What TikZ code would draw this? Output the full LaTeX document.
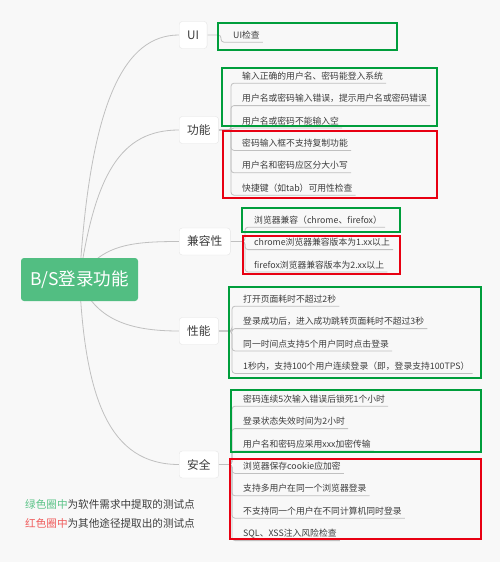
\documentclass[tikz,border=0pt]{standalone}
\usepackage{fontspec}
\setmainfont{Noto Sans CJK SC}
\usepackage{tikz}
\usetikzlibrary{positioning}

\definecolor{rootgreen}{RGB}{82,190,130}
\definecolor{boxgreen}{RGB}{0,158,60}
\definecolor{boxred}{RGB}{232,0,18}
\definecolor{linegray}{RGB}{192,192,192}
\definecolor{bggray}{RGB}{248,248,248}
\definecolor{txt}{RGB}{60,60,60}
\definecolor{keygreen}{RGB}{90,195,135}
\definecolor{keyred}{RGB}{240,90,90}

\pgfdeclarelayer{bg}
\pgfsetlayers{bg,main}

\tikzset{
  root/.style={fill=rootgreen, text=white, rounded corners=3pt, minimum width=117pt, minimum height=43pt, font=\fontsize{17.5}{20}\selectfont},
  topic/.style={anchor=west, fill=white, draw=gray!20, rounded corners=3pt, minimum height=27pt, inner xsep=8pt, text=txt, font=\fontsize{11.7}{14}\selectfont},
  leaf/.style={anchor=west, inner sep=0pt, minimum height=14pt, text=txt, font=\fontsize{8.8}{10}\selectfont},
  conn/.style={draw=linegray, line width=0.8pt},
  tie/.style={draw=linegray, line width=0.8pt, rounded corners=3pt},
  gbox/.style={draw=boxgreen, line width=1.6pt},
  rbox/.style={draw=boxred, line width=1.6pt},
  key/.style={anchor=west, inner sep=0pt, text=txt, font=\fontsize{10.6}{12}\selectfont}
}

\begin{document}
\begin{tikzpicture}[x=1pt, y=-1pt, node distance=8pt]
\useasboundingbox (0,0) rectangle (500,562);
\node[root] (bs) at (79.5,279.5) {B/S登录功能};
\node[topic] (ui) at (179,35) {UI};
\node[topic] (gn) at (179,130) {功能};
\node[topic] (jr) at (179,241.5) {兼容性};
\node[topic] (xn) at (179,331) {性能};
\node[topic] (aq) at (179,464.5) {安全};

% UI
\node[leaf] (u1) at (233,35) {UI检查};
% 功能
\node[leaf] (g1) at (242,76) {输入正确的用户名、密码能登入系统};
\node[leaf] (g2) [below=of g1.south west, anchor=north west] {用户名或密码输入错误，提示用户名或密码错误};
\node[leaf] (g3) [below=of g2.south west, anchor=north west] {用户名或密码不能输入空};
\node[leaf] (g4) [below=of g3.south west, anchor=north west] {密码输入框不支持复制功能};
\node[leaf] (g5) [below=of g4.south west, anchor=north west] {用户名和密码应区分大小写};
\node[leaf] (g6) [below=of g5.south west, anchor=north west] {快捷键（如tab）可用性检查};
% 兼容性
\node[leaf] (j1) at (254,220) {浏览器兼容（chrome、firefox）};
\node[leaf] (j2) [below=of j1.south west, anchor=north west] {chrome浏览器兼容版本为1.xx以上};
\node[leaf] (j3) [below=of j2.south west, anchor=north west] {firefox浏览器兼容版本为2.xx以上};
% 性能
\node[leaf] (x1) at (243,299) {打开页面耗时不超过2秒};
\node[leaf] (x2) [below=of x1.south west, anchor=north west] {登录成功后，进入成功跳转页面耗时不超过3秒};
\node[leaf] (x3) [below=of x2.south west, anchor=north west] {同一时间点支持5个用户同时点击登录};
\node[leaf] (x4) [below=of x3.south west, anchor=north west] {1秒内，支持100个用户连续登录（即，登录支持100TPS）};
% 安全
\node[leaf] (a1) at (243,399) {密码连续5次输入错误后锁死1个小时};
\node[leaf] (a2) [below=of a1.south west, anchor=north west] {登录状态失效时间为2小时};
\node[leaf] (a3) [below=of a2.south west, anchor=north west] {用户名和密码应采用xxx加密传输};
\node[leaf] (a4) [below=of a3.south west, anchor=north west] {浏览器保存cookie应加密};
\node[leaf] (a5) [below=of a4.south west, anchor=north west] {支持多用户在同一个浏览器登录};
\node[leaf] (a6) [below=of a5.south west, anchor=north west] {不支持同一个用户在不同计算机同时登录};
\node[leaf] (a7) [below=of a6.south west, anchor=north west] {SQL、XSS注入风险检查};

% legend
\node[key] (k1) at (25,504) {\textcolor{keygreen}{绿色圈中}为软件需求中提取的测试点};
\node[key] (k2) at (25,523) {\textcolor{keyred}{红色圈中}为其他途径提取出的测试点};

\begin{pgfonlayer}{bg}
\fill[bggray] (0,0) rectangle (500,562);
\draw[conn] (bs.center) .. controls (90,100) and (125,35) .. (ui.west);
\draw[conn] (bs.center) .. controls (95,175) and (120,130) .. (gn.west);
\draw[conn] (bs.center) .. controls (100,245) and (130,241.5) .. (jr.west);
\draw[conn] (bs.center) .. controls (95,320) and (130,331) .. (xn.west);
\draw[conn] (bs.center) .. controls (85,400) and (110,464.5) .. (aq.west);
\draw[tie] (ui.east) -| ([xshift=-12pt]u1.south west) -- ([xshift=3pt]u1.south east);
\foreach \n in {g1,g2,g3,g4,g5,g6}
  \draw[tie] (gn.east) -| ([xshift=-11pt]\n.south west) -- ([xshift=3pt]\n.south east);
\foreach \n in {j1,j2,j3}
  \draw[tie] (jr.east) -| ([xshift=-9pt]\n.south west) -- ([xshift=3pt]\n.south east);
\foreach \n in {x1,x2,x3,x4}
  \draw[tie] (xn.east) -| ([xshift=-11pt]\n.south west) -- ([xshift=3pt]\n.south east);
\foreach \n in {a1,a2,a3,a4,a5,a6,a7}
  \draw[tie] (aq.east) -| ([xshift=-11pt]\n.south west) -- ([xshift=3pt]\n.south east);
\end{pgfonlayer}

% groups
\draw[gbox] (218,23) rectangle (397,50);
\draw[gbox] (222,68) rectangle (437,126);
\draw[rbox] (223,131) rectangle (437,198);
\draw[gbox] (242,208) rectangle (400,232);
\draw[rbox] (243,236) rectangle (400,274);
\draw[gbox] (229,287) rectangle (481,378);
\draw[gbox] (231,390) rectangle (481,452);
\draw[rbox] (230,459) rectangle (481,539);
\end{tikzpicture}
\end{document}
